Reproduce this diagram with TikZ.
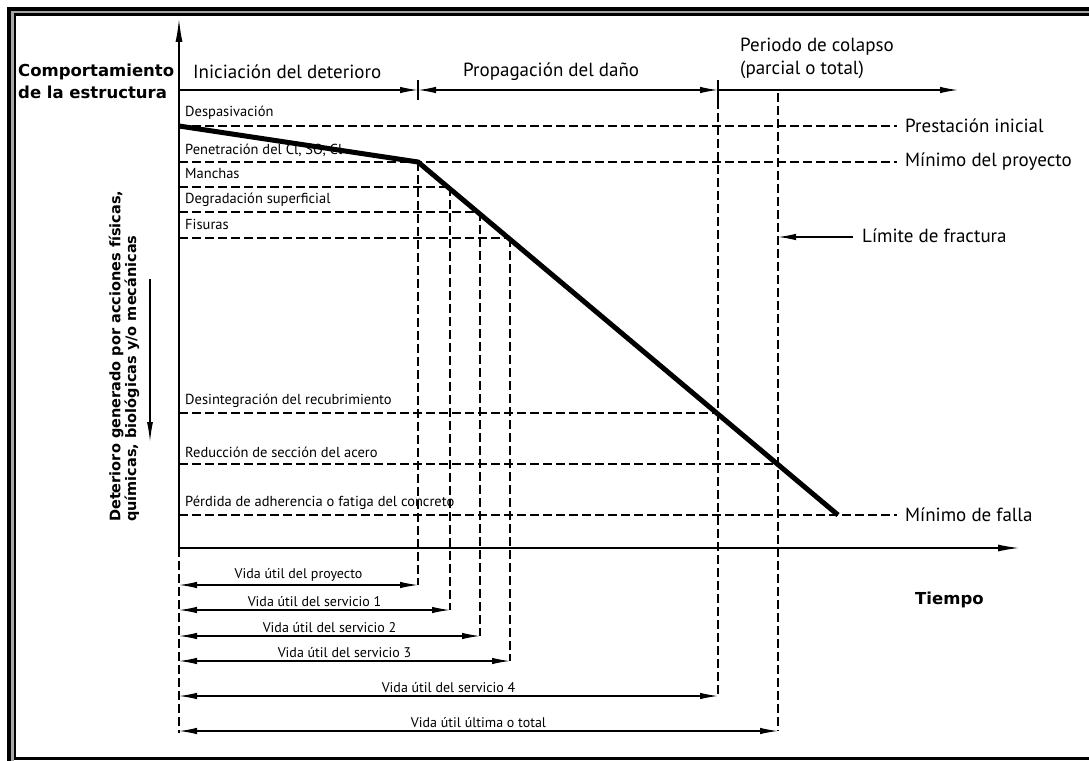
\documentclass[tikz,border=0pt]{standalone}
\usepackage{fontspec}
\setmainfont{PT Sans}
\newfontfamily\dv{DejaVu Sans}
\usetikzlibrary{arrows.meta}
\begin{document}
\begin{tikzpicture}[x=1pt,y=-1pt,
  dsh/.style={line width=1.7pt, dash pattern=on 9pt off 4pt},
  axisline/.style={line width=1.8pt},
  dim/.style={line width=1.3pt},
  tipr/.style={-{Latex[length=18pt,width=6.5pt]}},
  tipb/.style={{Latex[length=18pt,width=6.5pt]}-{Latex[length=18pt,width=6.5pt]}},
  sm/.style={font=\fontsize{14.5}{16}\selectfont, inner sep=0pt},
  vl/.style={font=\fontsize{14}{16}\selectfont, inner sep=1pt},
  md/.style={font=\fontsize{19}{23}\selectfont, inner sep=0pt},
  bl/.style={font=\dv\bfseries\fontsize{16.5}{22}\selectfont, inner sep=0pt}
]
\useasboundingbox (0,0) rectangle (1089,760);
\clip (0,0) rectangle (1089,760);
\fill[white] (0,0) rectangle (1089,760);
% frame
\draw[line width=2.5pt, black!35] (12.25,12.25) rectangle (1200,900);
\draw[line width=4pt] (9,9) rectangle (1200,900);
\draw[line width=2.5pt] (14.75,14.75) rectangle (1200,758.25);

% key coordinates
\coordinate (O) at (179,548);
\coordinate (Ytop) at (179,18);
\coordinate (Xend) at (1020,548);
\coordinate (P0) at (179,126);
\coordinate (K) at (418,162);
\coordinate (E) at (838,515);

% dashed horizontals
\draw[dsh] (179,126) -- (897,126);
\draw[dsh] (179,162) -- (897,162);
\draw[dsh] (179,187) -- (450,187);
\draw[dsh] (179,212) -- (480,212);
\draw[dsh] (179,238) -- (510,238);
\draw[dsh] (179,413) -- (718,413);
\draw[dsh] (179,464) -- (778,464);
\draw[dsh] (179,515) -- (897,515);

% dashed verticals
\draw[dsh] (418,162) -- (418,585);
\draw[dsh] (450,187) -- (450,610);
\draw[dsh] (480,212) -- (480,636);
\draw[dsh] (510,238) -- (510,661);
\draw[dsh] (718,100) -- (718,696);
\draw[dsh] (778,93) -- (778,731);
\draw[dsh] (179,548) -- (179,733);

% labels on left lines
\node[sm, anchor=west] (l1) at (185,113) {Despasivación};
\node[sm, anchor=west] (l2) at (185,150) {Penetración del Cl, SO, Cl};
\node[sm, anchor=west] (l3) at (185,174) {Manchas};
\node[sm, anchor=west] (l4) at (185,200) {Degradación superficial};
\node[sm, anchor=west] (l5) at (185,224) {Fisuras};
\node[sm, anchor=west] (l6) at (185,401) {Desintegración del recubrimiento};
\node[sm, anchor=west] (l7) at (185,452) {Reducción de sección del acero};
\node[sm, anchor=west] (l8) at (185,503) {Pérdida de adherencia o fatiga del concreto};

% thick performance line
\draw[line width=5pt, line join=miter] (P0) -- (K) -- (E);

% axes
\draw[axisline, -{Latex[length=24pt,width=7pt]}] (O) -- (Ytop);
\draw[axisline, -{Latex[length=22pt,width=7pt]}] (O) -- (Xend);

% phase arrows at top
\coordinate (T0) at (179,90);
\coordinate (T1) at (418,90);
\coordinate (T2) at (718,90);
\coordinate (T3) at (958,90);
\draw[dim, tipr] (T0) -- (T1);
\draw[dim, tipb] (T1) -- (T2);
\draw[dim, tipr] (T2) -- (T3);
\draw[dim] (418,80) -- (418,100);
\draw[dim] (718,80) -- (718,100);

\node[md, anchor=west] (ini) at (193,72) {Iniciación del deterioro};
\node[md, anchor=west] (prop) at (463,72) {Propagación del daño};
\node[md, anchor=west, align=left] (col) at (740,58) {Periodo de colapso\\(parcial o total)};

\node[bl, anchor=west, align=left] (comp) at (18,81) {Comportamiento\\de la estructura};

% right labels
\node[md, anchor=west] (pi) at (905,126) {Prestación inicial};
\node[md, anchor=west] (mp) at (905,162) {Mínimo del proyecto};
\node[md, anchor=west] (mf) at (905,515) {Mínimo de falla};
\node[md, anchor=west] (lf) at (862,236) {Límite de fractura};
\coordinate (lfs) at (853,237);
\coordinate (lfe) at (778,237);
\draw[dim, tipr] (lfs) -- (lfe);

\node[bl, anchor=west] (tiempo) at (915,600) {Tiempo};

% rotated label and arrow
\node[font=\dv\bfseries\fontsize{14.5}{14}\selectfont, rotate=90, align=left, anchor=west, inner sep=0pt] (det) at (124,522) {Deterioro generado por acciones físicas,\\químicas, biológicas y/o mecánicas};
\coordinate (da) at (150,279);
\coordinate (db) at (150,442);
\draw[dim, -{Latex[length=20pt,width=6pt]}] (da) -- (db);

% service life arrows
\foreach \y/\x/\t in {585/418/Vida útil del proyecto, 610/450/Vida útil del servicio 1, 636/480/Vida útil del servicio 2, 661/510/Vida útil del servicio 3, 696/718/Vida útil del servicio 4, 731/778/Vida útil última o total}{
  \draw[dim, tipb] (179,\y) -- (\x,\y) node[vl, midway, above=2pt] {\t};
}
\end{tikzpicture}
\end{document}
